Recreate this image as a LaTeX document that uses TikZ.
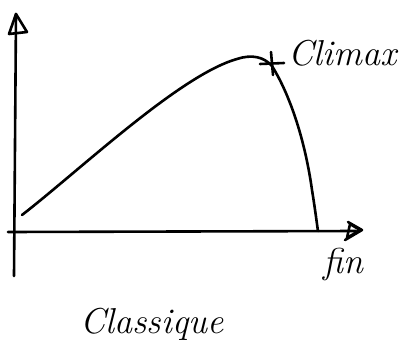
\documentclass[tikz,border=0pt]{standalone}
\begin{document}
\begin{tikzpicture}[x=1pt,y=-1pt,
  ink/.style={line width=2.6pt,line cap=round,line join=round,black},
  hand/.style={font=\fontsize{36}{36}\selectfont\itshape,inner sep=0pt,anchor=base west}]
\useasboundingbox (0,0) rectangle (411,345);
% axes
\coordinate (ytop) at (16,14);
\coordinate (ybot) at (14,276);
\coordinate (xleft) at (8,232);
\coordinate (xright) at (356,231);
\draw[ink] (ybot) -- (ytop);
\draw[ink] (xleft) -- (xright);
% arrowheads
\draw[ink] (ytop) -- (9,34) -- (27,32) -- cycle;
\draw[ink] (362,230) -- (348,222) (362,230) -- (345,240);
\draw[ink] (350,224) -- (360,230) -- (347,238) -- cycle;
% curve
\coordinate (start) at (22,215);
\coordinate (peak) at (237,59);
\coordinate (climax) at (272,66);
\coordinate (end) at (318,231);
\draw[ink] (start) .. controls (80,170) and (180,75) .. (peak)
  .. controls (252,54) and (264,57) .. (climax)
  .. controls (290,95) and (305,140) .. (312,190)
  .. controls (316,215) and (317,225) .. (end);
% climax cross
\draw[ink] (260,64) -- (284,63);
\draw[ink] (271,52) -- (273,75);
% labels
\node[hand] (lclimax) at (288,65) {Climax};
\node[hand] (lfin) at (323,273) {fin};
\node[hand] (lclass) at (80,333) {Classique};
\end{tikzpicture}
\end{document}
